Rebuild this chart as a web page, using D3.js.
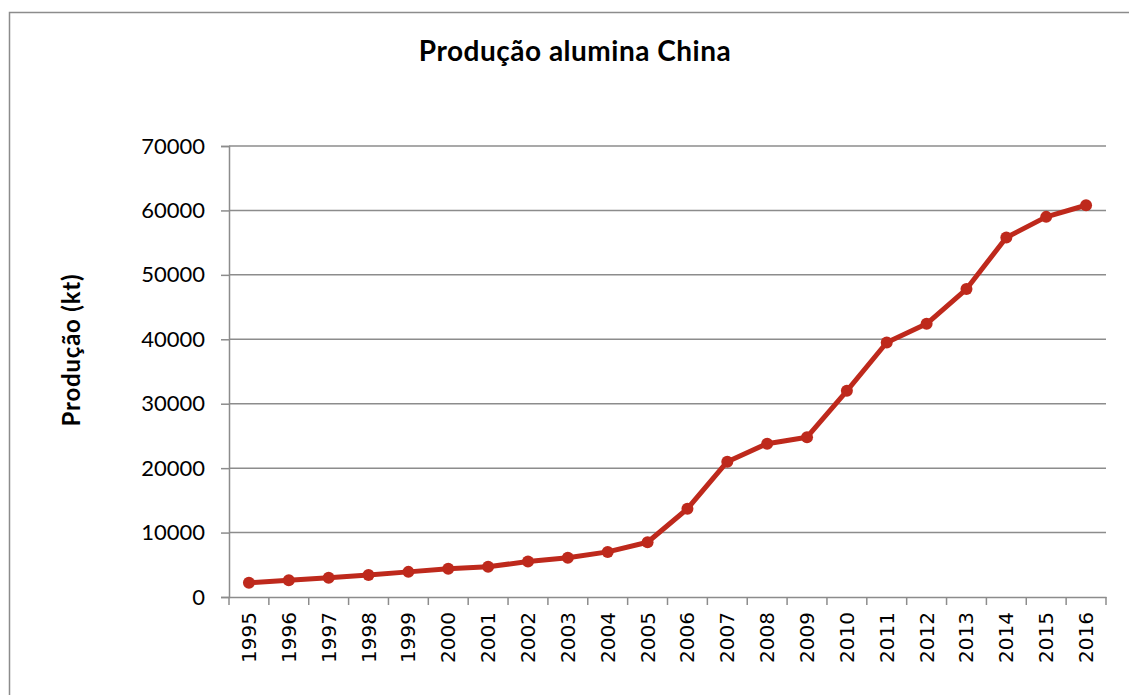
<!DOCTYPE html>
<html>
<head>
<meta charset="utf-8">
<script src="https://cdn.jsdelivr.net/npm/d3@7"></script>
<style>
  html, body { margin: 0; padding: 0; background: #fff; }
  svg { display: block; }
</style>
</head>
<body>
<svg id="chart" width="1129" height="695"></svg>
<script>
// Alumina production in China, thousand tonnes per year
const years = ["1995","1996","1997","1998","1999","2000","2001","2002","2003","2004","2005",
               "2006","2007","2008","2009","2010","2011","2012","2013","2014","2015","2016"];
const production = [2200, 2600, 3000, 3400, 3900, 4400, 4700, 5500, 6100, 7000, 8500,
                     13700, 21000, 23800, 24800, 32000, 39500, 42400, 47800, 55800, 59000, 60800];
const yTicks = [0, 10000, 20000, 30000, 40000, 50000, 60000, 70000];

const svg = d3.select("#chart");
const W = 1129, H = 695;
const plot = { left: 229, right: 1106, top: 146, bottom: 597 };
const gridColor = "#8c8c8c";
const lineColor = "#be291c";
const labelFont = "Lato, 'Open Sans', sans-serif";

// outer frame
svg.append("rect")
  .attr("x", 9.5).attr("y", 12.5)
  .attr("width", W + 20).attr("height", H + 20)
  .attr("fill", "#fff").attr("stroke", "#8c8c8c").attr("stroke-width", 1.5);

const x = d3.scaleBand().domain(years).range([plot.left, plot.right]);
const y = d3.scaleLinear().domain([0, 70000]).range([plot.bottom, plot.top]);

// horizontal gridlines
svg.append("g")
  .selectAll("line")
  .data(yTicks.filter(d => d > 0))
  .join("line")
  .attr("x1", plot.left).attr("x2", plot.right)
  .attr("y1", d => y(d)).attr("y2", d => y(d))
  .attr("stroke", gridColor).attr("stroke-width", 1.5);

// y axis
const yAxis = svg.append("g")
  .attr("transform", `translate(${plot.left},0)`)
  .call(d3.axisLeft(y).tickValues(yTicks).tickSize(8).tickPadding(16).tickFormat(d3.format("d")));
yAxis.select(".domain").attr("stroke", gridColor).attr("stroke-width", 1.5);
yAxis.selectAll(".tick line").attr("stroke", gridColor).attr("stroke-width", 1.5);
yAxis.selectAll(".tick text")
  .attr("fill", "#000")
  .style("font-family", labelFont)
  .style("font-size", "22px");

// x axis with ticks at category boundaries
const xAxis = svg.append("g")
  .attr("transform", `translate(0,${plot.bottom})`)
  .call(d3.axisBottom(x).tickSize(0).tickSizeOuter(0));
xAxis.select(".domain").attr("stroke", gridColor).attr("stroke-width", 1.5);
xAxis.selectAll(".tick text")
  .attr("fill", "#000")
  .attr("transform", "rotate(-90)")
  .attr("text-anchor", "end")
  .attr("x", -15)
  .attr("y", 0)
  .attr("dy", "0.35em")
  .style("font-family", "'DejaVu Sans', sans-serif")
  .style("font-size", "20px");
const bounds = years.map(d => x(d)).concat([x(years[years.length - 1]) + x.bandwidth()]);
xAxis.selectAll(".boundary")
  .data(bounds)
  .join("line")
  .attr("class", "boundary")
  .attr("x1", d => d).attr("x2", d => d)
  .attr("y1", 0).attr("y2", 8)
  .attr("stroke", gridColor).attr("stroke-width", 1.5);

// series line and markers
const cx = d => x(d) + x.bandwidth() / 2;
const pts = years.map((yr, i) => ({ yr, v: production[i] }));
svg.append("path")
  .datum(pts)
  .attr("fill", "none")
  .attr("stroke", lineColor)
  .attr("stroke-width", 5)
  .attr("stroke-linejoin", "round")
  .attr("d", d3.line().x(d => cx(d.yr)).y(d => y(d.v)));
svg.append("g")
  .selectAll("circle")
  .data(pts)
  .join("circle")
  .attr("cx", d => cx(d.yr))
  .attr("cy", d => y(d.v))
  .attr("r", 6)
  .attr("fill", lineColor);

// title
svg.append("text")
  .attr("x", 575).attr("y", 61)
  .attr("text-anchor", "middle")
  .style("font-family", labelFont)
  .style("font-weight", "bold")
  .style("font-size", "28px")
  .style("letter-spacing", "0.5px")
  .text("Produção alumina China");

// y axis title
svg.append("text")
  .attr("transform", "translate(80,350) rotate(-90)")
  .attr("text-anchor", "middle")
  .style("font-family", labelFont)
  .style("font-weight", "bold")
  .style("font-size", "24px")
  .style("letter-spacing", "0.8px")
  .text("Produção (kt)");
</script>
</body>
</html>
